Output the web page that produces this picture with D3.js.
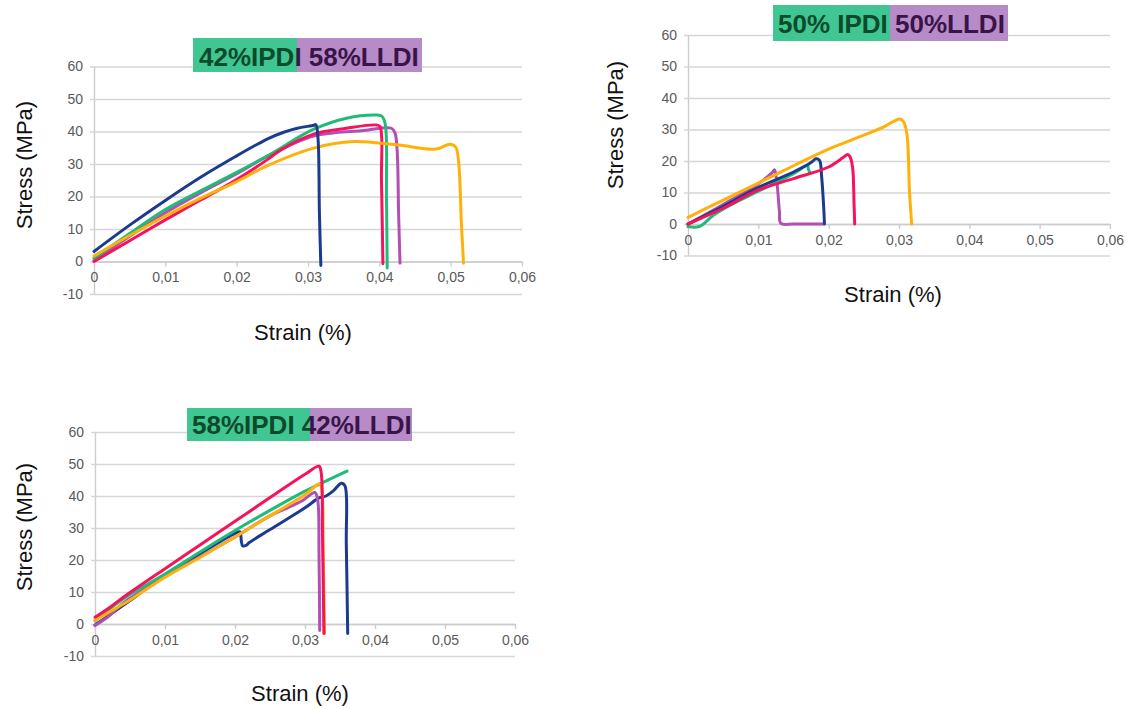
<!DOCTYPE html>
<html>
<head>
<meta charset="utf-8">
<script src="https://cdn.jsdelivr.net/npm/d3@7"></script>
<style>
  body { margin: 0; background: #fff; }
  svg { display: block; font-family: "Liberation Sans", Arial, sans-serif; }
</style>
</head>
<body>
<svg id="fig" width="1131" height="709"></svg>
<script>
'use strict';

var strainTicks = [0, 0.01, 0.02, 0.03, 0.04, 0.05, 0.06];
var stressTicks = [-10, 0, 10, 20, 30, 40, 50, 60];

// 42%IPDI 58%LLDI  [strain, stress MPa]
var a_blue   = [[0,3.1],[0.005,11.2],[0.01,18.8],[0.015,26],[0.02,32.5],[0.0225,35.6],[0.0245,37.9],[0.0265,39.7],[0.0285,41],[0.0308,41.9],[0.0311,42.1],[0.0314,38],[0.0316,15],[0.0318,-1.2]];
var a_green  = [[0,1],[0.005,8.6],[0.01,16],[0.015,21.8],[0.02,27.4],[0.0244,32.6],[0.0308,40.7],[0.0354,44.1],[0.0392,45.1],[0.0403,44.8],[0.0408,42.6],[0.041,20],[0.0411,-2]];
var a_red    = [[0,0],[0.005,6.4],[0.01,12.8],[0.015,19],[0.02,25.2],[0.0244,31.5],[0.0261,34.2],[0.0308,39.2],[0.0354,41],[0.0396,42],[0.0401,41.5],[0.0403,25],[0.0405,-0.7]];
var a_purple = [[0,0.3],[0.005,7.8],[0.01,15],[0.015,21.2],[0.02,27],[0.0244,32.5],[0.0308,38.6],[0.0378,40.3],[0.0417,41],[0.0422,39.5],[0.0425,34],[0.0427,15],[0.0429,-0.5]];
var a_orange = [[0,1.7],[0.005,8],[0.01,14],[0.015,19.5],[0.02,24.6],[0.0244,29.6],[0.0308,34.9],[0.0364,36.9],[0.0424,35.9],[0.048,34.6],[0.0499,36.1],[0.0507,35.2],[0.0511,31],[0.0515,12],[0.0518,-0.5]];

// 50% IPDI 50%LLDI
var b_blue   = [[0,0],[0.005,5.6],[0.01,11.6],[0.015,16.5],[0.0175,19.5],[0.0182,20.7],[0.0187,20.2],[0.019,15],[0.0193,5],[0.0194,0]];
var b_green  = [[0,-0.8],[0.0016,-0.8],[0.0036,2.8],[0.006,6],[0.01,10.4],[0.015,16],[0.017,18.6],[0.0171,17.5],[0.0173,16.5]];
var b_red    = [[0,0],[0.005,5],[0.01,10.8],[0.015,14.4],[0.02,18.1],[0.022,21],[0.0227,22.1],[0.023,21.5],[0.0234,18],[0.0236,7],[0.0237,0]];
var b_purple = [[0,0],[0.005,6.2],[0.01,12.8],[0.012,16.4],[0.0123,17.2],[0.0126,14],[0.013,4],[0.0132,0.2],[0.015,0],[0.0192,0]];
var b_orange = [[0,2.1],[0.002,4.3],[0.005,7.6],[0.01,13],[0.015,18.5],[0.02,23.8],[0.025,28.2],[0.028,31],[0.029,32.3],[0.0301,33.3],[0.0306,32.6],[0.0311,29],[0.0315,10],[0.0318,0]];

// 58%IPDI 42%LLDI
var c_blue   = [[0,-0.3],[0.005,7.3],[0.01,15.3],[0.015,22],[0.02,28.3],[0.0207,28.8],[0.0209,26],[0.0211,24.4],[0.0216,24.6],[0.022,25.4],[0.025,29.5],[0.03,36.3],[0.032,39.4],[0.033,40],[0.034,41.5],[0.0352,44],[0.0357,43.2],[0.0359,25],[0.0361,-3]];
var c_green  = [[0,1],[0.004,7.8],[0.01,15.6],[0.015,22.5],[0.02,29.2],[0.025,35.5],[0.03,41.5],[0.036,47.8]];
var c_red    = [[0,2.1],[0.002,5],[0.004,8.3],[0.01,17.3],[0.015,24.7],[0.02,32.1],[0.025,39.5],[0.03,46.8],[0.032,49.3],[0.0323,47.5],[0.0325,28],[0.0327,-3]];
var c_purple = [[0,-0.5],[0.002,2.5],[0.004,6.5],[0.01,14.8],[0.015,21],[0.02,27.2],[0.025,33.8],[0.028,36.8],[0.0296,38.5],[0.0314,41.1],[0.0318,39],[0.032,22],[0.0321,-2]];
var c_orange = [[0,1.2],[0.005,7.5],[0.01,14.6],[0.015,20.8],[0.02,27.2],[0.025,33.8],[0.03,40.4],[0.0321,43.8],[0.0324,42],[0.0326,22],[0.0328,-3]];

var colors = {
    blue: '#1c3b8e',
    green: '#1fbb78',
    red: '#f7125c',
    purple: '#b24fb4',
    orange: '#ffb10a'
};

var panels = [
    {
        x0: 94, x1: 522, yTop: 66.5, yBot: 294,
        title: '42%IPDI 58%LLDI', tx: 199, ty: 66,
        boxG: [193, 297], boxP: [297, 422], boxY: [38, 72],
        ylab: [24, 165], xlab: [303, 340],
        series: [['purple', a_purple], ['green', a_green], ['red', a_red], ['orange', a_orange], ['blue', a_blue]]
    },
    {
        x0: 688, x1: 1110, yTop: 35, yBot: 255.5,
        title: '50% IPDI 50%LLDI', tx: 778, ty: 33,
        boxG: [773, 890], boxP: [890, 1008], boxY: [5, 41],
        ylab: [615, 125], xlab: [893, 302],
        series: [['purple', b_purple], ['green', b_green], ['blue', b_blue], ['red', b_red], ['orange', b_orange]]
    },
    {
        x0: 95, x1: 515, yTop: 432, yBot: 656,
        title: '58%IPDI 42%LLDI', tx: 192, ty: 434,
        boxG: [187, 310], boxP: [310, 412], boxY: [408, 441],
        ylab: [24, 527], xlab: [300, 701],
        series: [['blue', c_blue], ['purple', c_purple], ['green', c_green], ['orange', c_orange], ['red', c_red]]
    }
];

var svg = d3.select('#fig');
var fmtX = function(d) { return d === 0 ? '0' : d3.format('.2f')(d).replace('.', ','); };
var fmtY = function(d) { return String(d); };

panels.forEach(function(p, i) {
    var x = d3.scaleLinear().domain([0, 0.06]).range([p.x0, p.x1]);
    var y = d3.scaleLinear().domain([-10, 60]).range([p.yBot, p.yTop]);
    var g = svg.append('g');

    // gridlines + y axis
    var ya = g.append('g')
        .attr('transform', 'translate(' + p.x0 + ',0)')
        .call(d3.axisLeft(y).tickValues(stressTicks).tickFormat(fmtY).tickSizeInner(-(p.x1 - p.x0)).tickSizeOuter(0).tickPadding(11));
    ya.selectAll('.tick line').attr('x1', -4).attr('stroke', '#d6d6d6').attr('stroke-width', 1.4);
    ya.select('.domain').attr('stroke', '#cccccc').attr('stroke-width', 1.4);
    ya.selectAll('text').attr('fill', '#5a5a5a').attr('font-size', 14).attr('font-family', '"Liberation Sans", Arial, sans-serif');

    // x axis crossing at 0
    var xa = g.append('g')
        .attr('transform', 'translate(0,' + y(0) + ')')
        .call(d3.axisBottom(x).tickValues(strainTicks).tickFormat(fmtX).tickSizeInner(5).tickSizeOuter(0).tickPadding(6));
    xa.select('.domain').attr('stroke', '#cccccc').attr('stroke-width', 1.4);
    xa.selectAll('.tick line').attr('stroke', '#cccccc').attr('stroke-width', 1.4);
    xa.selectAll('text').attr('fill', '#5a5a5a').attr('font-size', 14).attr('font-family', '"Liberation Sans", Arial, sans-serif');

    // curves
    var line = d3.line()
        .x(function(d) { return x(d[0]); })
        .y(function(d) { return y(d[1]); })
        .curve(d3.curveCatmullRom.alpha(0.5));
    p.series.forEach(function(s) {
        g.append('path')
            .datum(s[1])
            .attr('fill', 'none')
            .attr('stroke', colors[s[0]])
            .attr('stroke-width', 3)
            .attr('stroke-linejoin', 'round')
            .attr('stroke-linecap', 'round')
            .attr('d', line);
    });

    // title boxes
    var h = p.boxY[1] - p.boxY[0];
    g.append('rect').attr('x', p.boxG[0]).attr('y', p.boxY[0]).attr('width', p.boxG[1] - p.boxG[0]).attr('height', h).attr('fill', '#3fc692');
    g.append('rect').attr('x', p.boxP[0]).attr('y', p.boxY[0]).attr('width', p.boxP[1] - p.boxP[0]).attr('height', h).attr('fill', '#b68bc8');

    var defs = svg.append('defs');
    defs.append('clipPath').attr('id', 'cg' + i).append('rect')
        .attr('x', p.boxG[0]).attr('y', p.boxY[0]).attr('width', p.boxG[1] - p.boxG[0]).attr('height', h);
    defs.append('clipPath').attr('id', 'cp' + i).append('rect')
        .attr('x', p.boxP[0]).attr('y', p.boxY[0]).attr('width', p.boxP[1] - p.boxP[0]).attr('height', h);
    [['cg', '#0c4a2c'], ['cp', '#3a1449']].forEach(function(c) {
        g.append('text')
            .attr('clip-path', 'url(#' + c[0] + i + ')')
            .attr('x', p.tx).attr('y', p.ty)
            .attr('font-size', 26).attr('font-weight', 'bold')
            .attr('fill', c[1])
            .text(p.title);
    });

    // axis titles
    g.append('text')
        .attr('transform', 'translate(' + p.ylab[0] + ',' + p.ylab[1] + ') rotate(-90)')
        .attr('text-anchor', 'middle').attr('dy', '0.35em')
        .attr('font-size', 22).attr('fill', '#111')
        .text('Stress (MPa)');
    g.append('text')
        .attr('x', p.xlab[0]).attr('y', p.xlab[1])
        .attr('text-anchor', 'middle')
        .attr('font-size', 22).attr('fill', '#111')
        .text('Strain (%)');
});
</script>
</body>
</html>
